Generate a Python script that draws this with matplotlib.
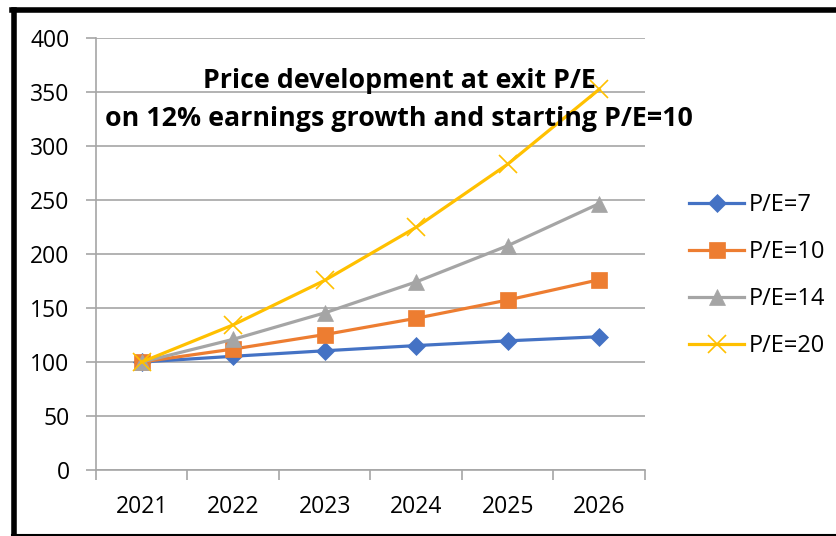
import matplotlib
matplotlib.use("Agg")
import matplotlib.pyplot as plt
from matplotlib.lines import Line2D

years = ["2021", "2022", "2023", "2024", "2025", "2026"]
pe7 = [100, 105.3, 110.4, 115.2, 119.6, 123.4]
pe10 = [100, 112.0, 125.4, 140.5, 157.4, 176.2]
pe14 = [100, 121.0, 145.5, 174.2, 207.7, 246.7]
pe20 = [100, 134.4, 175.6, 224.8, 283.2, 352.5]
series_labels = ["P/E=7", "P/E=10", "P/E=14", "P/E=20"]
title_text = "Price development at exit P/E\non 12% earnings growth and starting P/E=10"
yticks = [0, 50, 100, 150, 200, 250, 300, 350, 400]

plt.rcParams['font.family'] = ['Open Sans', 'DejaVu Sans']

W, H = 837, 536
fig = plt.figure(figsize=(W/100, H/100), dpi=100)
ax = fig.add_axes([96/W, 1-470/H, (645-96)/W, (470-38)/H])

colors = ["#4472C4", "#ED7D31", "#A5A5A5", "#FFC000"]
markers = ["D", "s", "^", "x"]
msizes = [9.5, 11, 11, 13]
x = list(range(len(years)))
for vals, c, m, ms, lab in zip([pe7, pe10, pe14, pe20], colors, markers, msizes, series_labels):
    ax.plot(x, vals, color=c, lw=2.3, marker=m, markersize=ms, label=lab,
            markeredgewidth=1.2 if m == "x" else 0.5, markeredgecolor=c, zorder=3)

gray = "#A6A6A6"
ax.set_ylim(0, 400)
ax.set_yticks(yticks)
ax.set_xlim(-0.5, len(years) - 0.5)
ax.set_xticks(x)
ax.set_xticklabels(years)
ax.set_xticks([i - 0.5 for i in range(len(years) + 1)], minor=True)
ax.tick_params(axis='x', which='major', length=0, pad=18, labelsize=16.5)
ax.tick_params(axis='x', which='minor', length=7, width=1.2, color=gray, direction='out')
ax.tick_params(axis='y', length=7, width=1.2, color=gray, pad=12, labelsize=16.5)
ax.grid(axis='y', color=gray, lw=1.2)
ax.set_axisbelow(True)
for s in ['top', 'right']:
    ax.spines[s].set_visible(False)
for s in ['left', 'bottom']:
    ax.spines[s].set_color(gray)
    ax.spines[s].set_linewidth(1.2)

fig.text(399/W, 1-100/H, title_text, ha='center', va='center', fontsize=19.3,
         fontweight='bold', linespacing=1.55)

leg = fig.legend(loc='upper left', bbox_to_anchor=(680/W, 1-184/H), frameon=False,
                 fontsize=17, handlelength=2.3, labelspacing=0.97, handletextpad=0.2,
                 borderaxespad=0)

# figure border
fig.add_artist(Line2D([14/W, 14/W], [0, 1-10/H], color='black', lw=4, transform=fig.transFigure))
fig.add_artist(Line2D([12/W, 1], [1-10/H, 1-10/H], color='black', lw=4, transform=fig.transFigure))
fig.add_artist(Line2D([12/W, 1], [1-534.5/H, 1-534.5/H], color='black', lw=1.5, transform=fig.transFigure))

fig.savefig("out.png", dpi=100)
